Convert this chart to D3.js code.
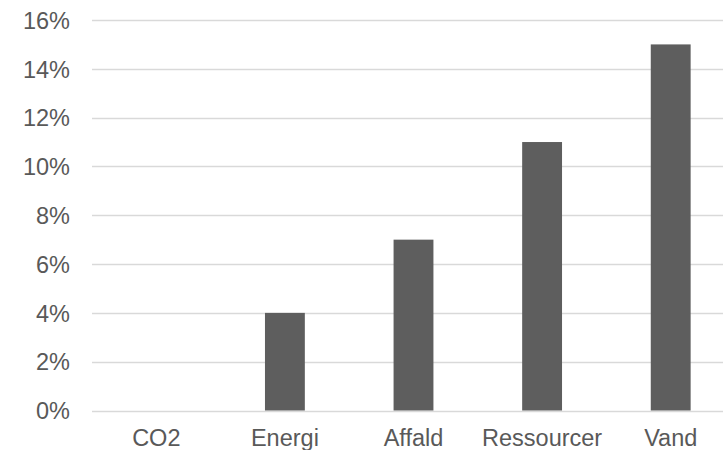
<!DOCTYPE html>
<html>
<head>
<meta charset="utf-8">
<script src="https://cdn.jsdelivr.net/npm/d3@7"></script>
<style>
  html, body { margin: 0; padding: 0; background: #fff; }
  svg { display: block; }
  text { font-family: "Liberation Sans", Arial, sans-serif; fill: #595959; }
</style>
</head>
<body>
<svg id="chart" width="723" height="450"></svg>
<script>
// Share of initiatives per area (percent)
const categories = ["CO2", "Energi", "Affald", "Ressourcer", "Vand"];
const values = [0, 4, 7, 11, 15];
const yTicks = [0, 2, 4, 6, 8, 10, 12, 14, 16];

const svg = d3.select("#chart");
const plot = { left: 92, right: 735, top: 20, bottom: 410.5 };
const fontSize = "23.5px";

const x = d3.scaleBand()
  .domain(categories)
  .range([plot.left, plot.right])
  .paddingInner(0.69)
  .paddingOuter(0.345);

const y = d3.scaleLinear()
  .domain([0, 16])
  .range([plot.bottom, plot.top]);

// Horizontal gridlines
svg.append("g")
  .selectAll("line")
  .data(yTicks)
  .join("line")
  .attr("x1", plot.left)
  .attr("x2", plot.right)
  .attr("y1", d => Math.round(y(d)) + 0.5)
  .attr("y2", d => Math.round(y(d)) + 0.5)
  .attr("stroke", "#d9d9d9")
  .attr("stroke-width", 1.3);

// Y axis labels
const yAxis = d3.axisLeft(y)
  .tickValues(yTicks)
  .tickFormat(d => d + "%")
  .tickSize(0)
  .tickPadding(0);
const gy = svg.append("g")
  .attr("transform", `translate(${plot.left - 22},0)`)
  .call(yAxis);
gy.select(".domain").remove();
gy.selectAll("text")
  .style("font-size", fontSize)
  .attr("fill", "#595959")
  .attr("dy", "0.35em");

// Bars
svg.append("g")
  .selectAll("rect")
  .data(categories.map((c, i) => ({ c, v: values[i] })))
  .join("rect")
  .attr("x", d => x(d.c))
  .attr("width", x.bandwidth())
  .attr("y", d => y(d.v))
  .attr("height", d => y(0) - y(d.v))
  .attr("fill", "#5e5e5e");

// X axis labels
const xAxis = d3.axisBottom(x).tickSize(0).tickPadding(0);
const gx = svg.append("g")
  .attr("transform", `translate(0,${plot.bottom + 19})`)
  .call(xAxis);
gx.select(".domain").remove();
gx.selectAll("text")
  .style("font-size", fontSize)
  .attr("fill", "#595959");
</script>
</body>
</html>
